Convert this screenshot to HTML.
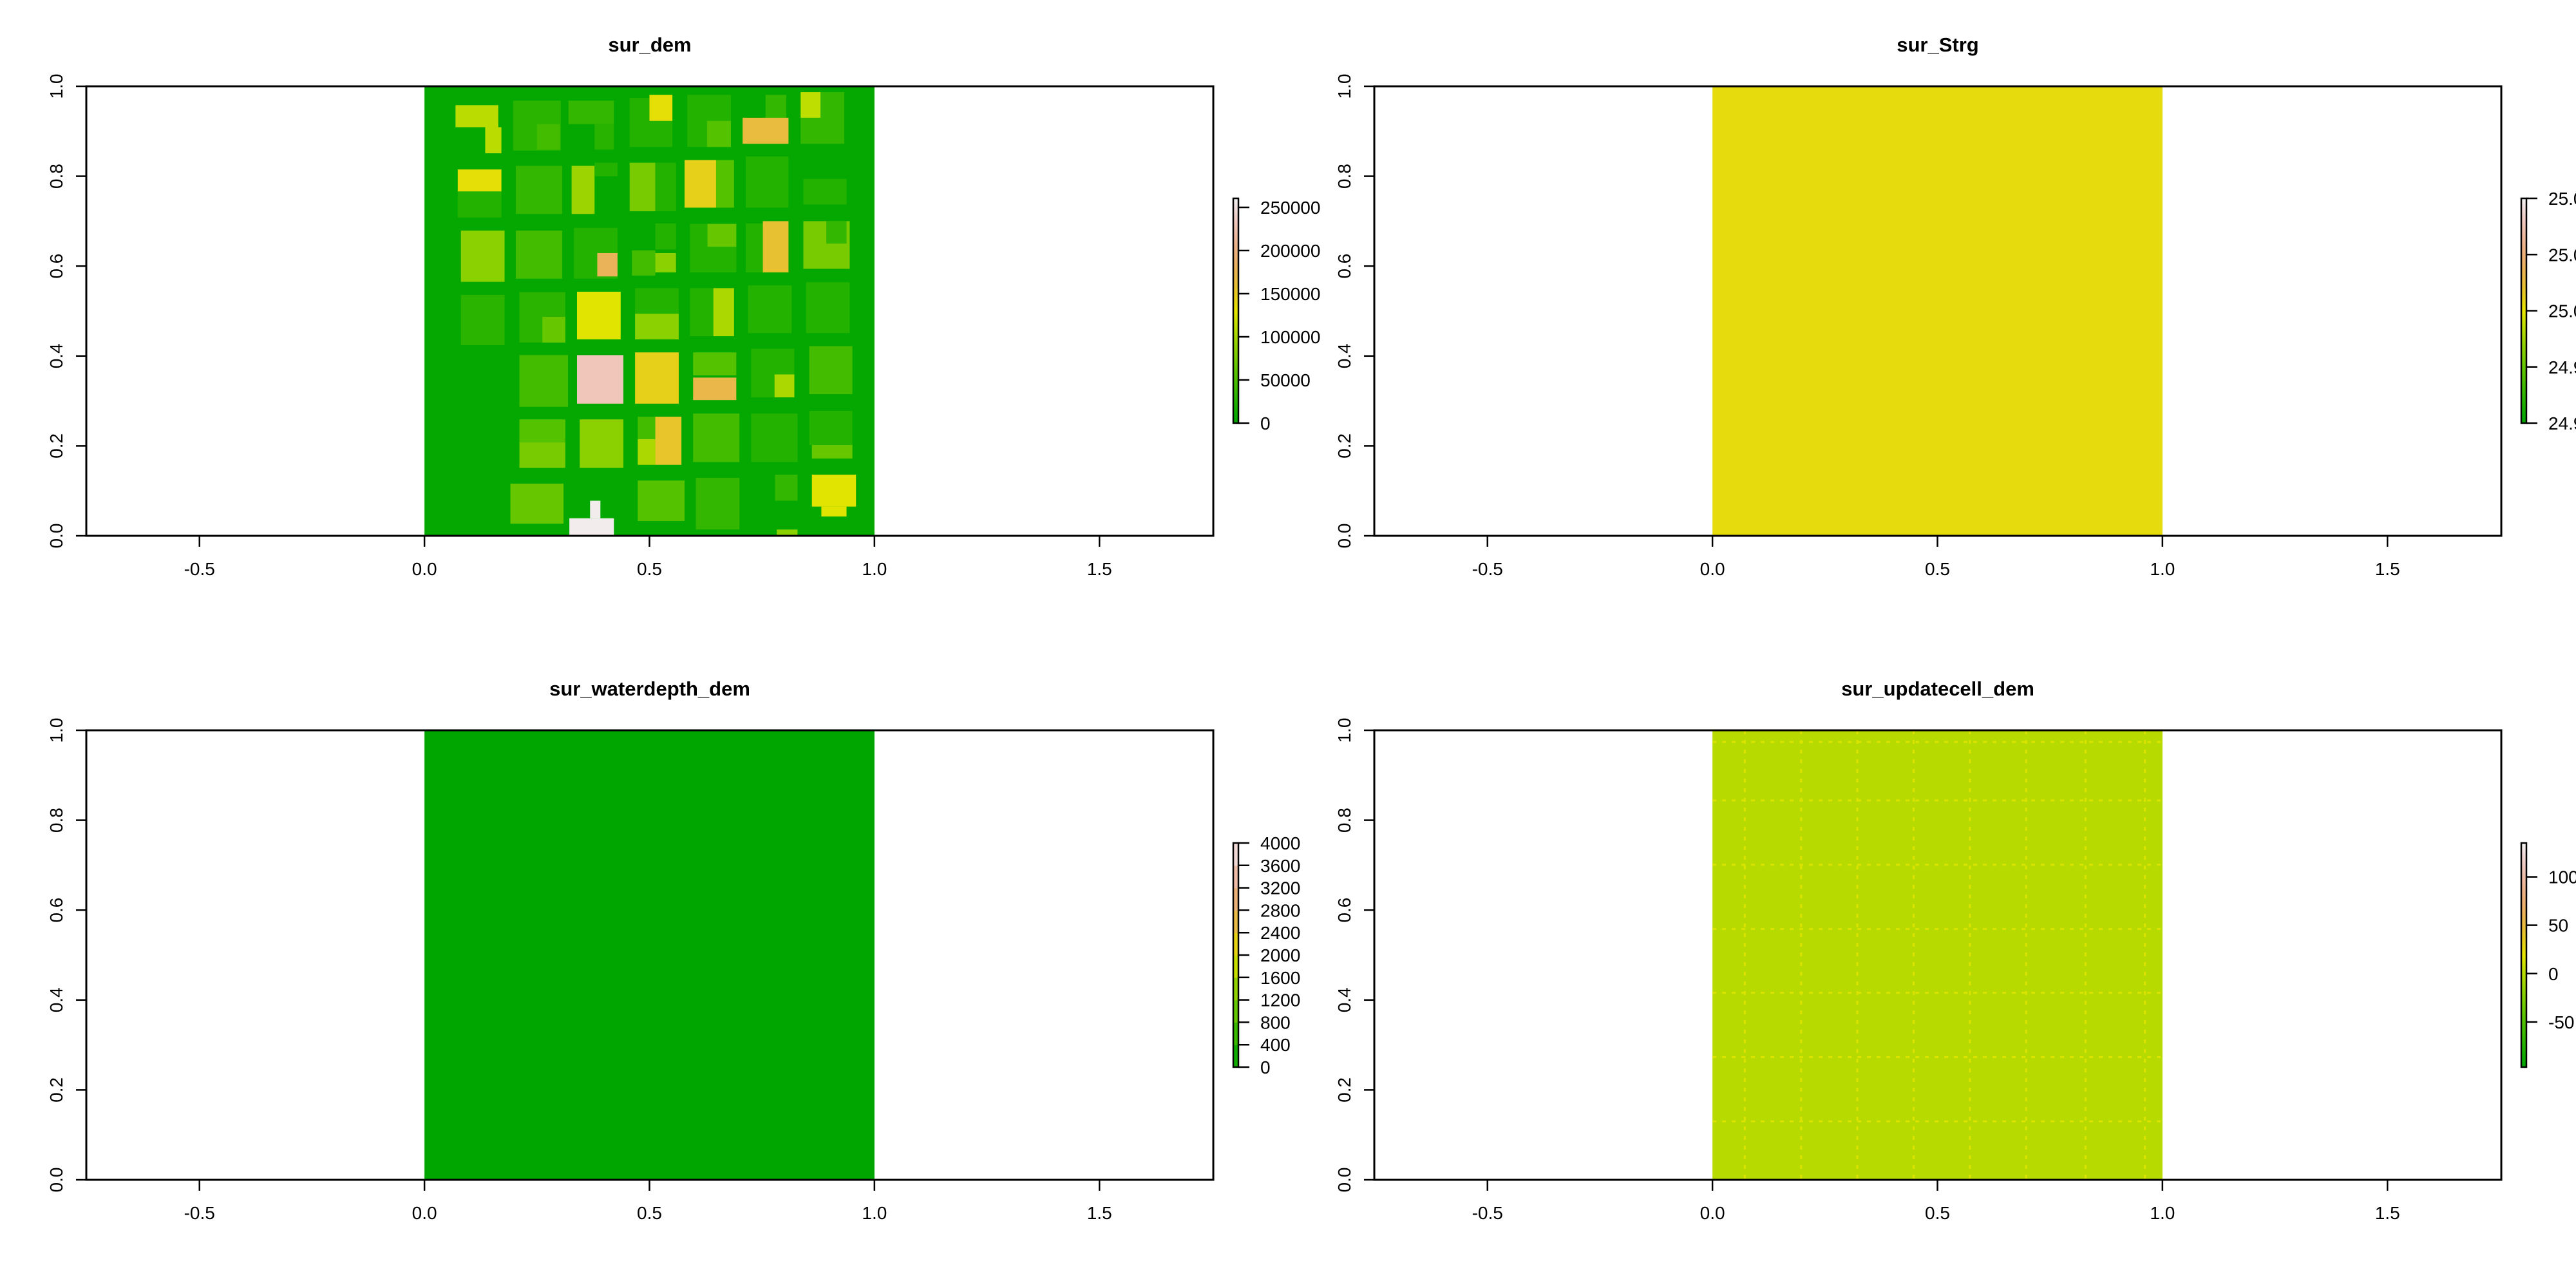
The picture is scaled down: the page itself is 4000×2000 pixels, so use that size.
<!DOCTYPE html>
<html><head><meta charset="utf-8"><title>rasters</title>
<style>html,body{margin:0;padding:0;background:#fff}svg{display:block}text{font-family:"Liberation Sans",Arial,sans-serif;fill:#000}</style>
</head><body>
<svg id="chart" xmlns="http://www.w3.org/2000/svg" width="4000" height="2000" viewBox="0 0 4000 2000"></svg>
<script>
const NS='http://www.w3.org/2000/svg';
const svg=document.getElementById('chart');
const panelTitles=['sur_dem','sur_Strg','sur_waterdepth_dem','sur_updatecell_dem'];
const xTicks=[-0.5,0,0.5,1,1.5];
const xTickLabels=['-0.5','0.0','0.5','1.0','1.5'];
const yTicks=[0,0.2,0.4,0.6,0.8,1];
const yTickLabels=['0.0','0.2','0.4','0.6','0.8','1.0'];
// panel 1 (sur_dem) building blocks: x0,y0,x1,y1 data coords, value (thousands)
const demBase=4;
const demX0=[.069,.135,.197,.25,.32,.378,.456,.5,.584,.628,.758,.707,.836,.836, .074,.074,.203,.327,.378,.456,.513,.578,.648,.714,.842, .081,.203,.332,.384,.461,.513,.513,.59,.629,.714,.752,.842,.893, .081,.211,.262,.339,.468,.468,.59,.642,.719,.848, .211,.339,.468,.597,.597,.726,.778,.855, .211,.211,.345,.474,.513,.474,.597,.726,.855,.861, .191,.474,.603,.861,.882,.779,.322,.368,.783];
const demY0=[.909,.851,.857,.859,.916,.859,.865,.923,.865,.865,.930,.872,.872,.930, .766,.708,.716,.716,.800,.722,.722,.730,.730,.730,.737, .565,.572,.572,.577,.579,.586,.637,.586,.643,.586,.586,.594,.650, .424,.430,.430,.437,.494,.437,.444,.444,.451,.451, .287,.294,.294,.357,.302,.308,.308,.315, .208,.151,.151,.158,.158,.158,.164,.164,.202,.172, .027,.033,.014,.065,.043,.078,0,.039,0];
const demX1=[.164,.171,.303,.301,.421,.421,.551,.551,.681,.681,.804,.809,.933,.880, .171,.171,.306,.378,.429,.513,.559,.655,.688,.809,.938, .178,.306,.429,.429,.513,.559,.559,.693,.693,.752,.809,.945,.938, .178,.313,.313,.436,.565,.565,.642,.688,.816,.945, .319,.442,.565,.693,.693,.822,.822,.951, .313,.313,.442,.571,.571,.513,.700,.829,.951,.951, .309,.578,.700,.959,.938,.829,.421,.391,.829];
const demY1=[.958,.909,.968,.916,.968,.916,.974,.981,.981,.923,.981,.930,.987,.987, .815,.766,.823,.823,.830,.830,.830,.836,.836,.844,.794, .679,.679,.685,.629,.635,.629,.695,.694,.694,.695,.700,.700,.700, .536,.542,.487,.543,.551,.494,.551,.551,.557,.564, .402,.402,.408,.408,.352,.416,.359,.422, .259,.208,.259,.265,.265,.215,.272,.272,.278,.202, .116,.123,.129,.136,.065,.136,.039,.078,.014];
const demVal=[110,110,30,46,36,28,26,134,26,57,36,165,36,112, 134,26,36,95,26,77,26,145,57,26,26, 87,46,26,180,46,87,26,26,67,26,158,77,36, 30,30,67,128,26,87,26,103,26,26, 46,231,145,57,172,26,103,46, 57,77,87,46,154,103,46,26,26,67, 67,57,36,128,128,36,257,257,87];
const demTicks=[0,50000,100000,150000,200000,250000];
// panel 2
const strgValue=25.001;
const strgTicks=[24.98,24.99,25.00,25.01,25.02];
// panel 3
const waterValue=0;
const waterTicks=[0,400,800,1200,1600,2000,2400,2800,3200,3600,4000];
// panel 4
const updBase=0;
const updLineX=[.072,.197,.322,.447,.572,.697,.829,.961];
const updLineY=[.974,.844,.701,.558,.416,.273,.13];
const updLineVal=15;
const updTicks=[-50,0,50,100];

const plot={l:134,r:1884,t:134,b:832};
const xlim=[-0.7515,1.753];
function sx(v,dx){return dx+plot.l+(v-xlim[0])/(xlim[1]-xlim[0])*(plot.r-plot.l);}
function sy(v,dy){return dy+plot.b-v*(plot.b-plot.t);}
function hsv(h,s,v){h=((h%1)+1)%1*6;const i=Math.floor(h),f=h-i,p=v*(1-s),q=v*(1-s*f),t=v*(1-s*(1-f));const m=[[v,t,p],[q,v,p],[p,v,t],[p,q,v],[t,p,v],[v,p,q]][i%6];return 'rgb('+m.map(c=>Math.round(c*255)).join(',')+')';}
function terrain(t){t=Math.max(0,Math.min(1,t));if(t<=0.5){const u=t/0.5;return hsv(4/12-2/12*u,1,.65+.25*u);}const u=(t-.5)/.5;return hsv(2/12*(1-u),1-u,.9+.05*u);}
function el(tag,attrs,parent){const e=document.createElementNS(NS,tag);for(const k in attrs)e.setAttribute(k,attrs[k]);(parent||svg).appendChild(e);return e;}

const offsets=[[0,0],[2000,0],[0,1000],[2000,1000]];
const legends=[
 {min:0,max:260400,ticks:demTicks,lab:v=>String(v),top:308,bot:657,disc:false},
 {min:24.98,max:25.02,ticks:strgTicks,lab:v=>v.toFixed(2),top:308,bot:657,disc:false},
 {min:0,max:4000,ticks:waterTicks,lab:v=>String(v),top:309,bot:657,disc:true},
 {min:-96.7,max:135,ticks:updTicks,lab:v=>String(v),top:309,bot:657,disc:false}];

offsets.forEach((o,pi)=>{
 const dx=o[0],dy=o[1];
 const g=el('g',{});
 
 
 const L=legends[pi];
 const col=v=>terrain((v-L.min)/(L.max-L.min));
 const rg=el('g',{},g);
 
 
 const X0=sx(0,dx),X1=sx(1,dx),Y0=sy(0,dy),Y1=sy(1,dy);
 if(pi===0){
  const b=el('rect',{x:X0,y:Y1,width:X1-X0,height:Y0-Y1,fill:col(demBase*1000)},rg);
  
  
  demVal.forEach((v,i)=>{
   const r=el('rect',{x:sx(demX0[i],dx),y:sy(demY1[i],dy),width:sx(demX1[i],dx)-sx(demX0[i],dx),height:sy(demY0[i],dy)-sy(demY1[i],dy),fill:col(v*1000)},rg);
   
   
  });
 } else if(pi===1){
  const b=el('rect',{x:X0,y:Y1,width:X1-X0,height:Y0-Y1,fill:col(strgValue)},rg);
  
  
 } else if(pi===2){
  const b=el('rect',{x:X0,y:Y1,width:X1-X0,height:Y0-Y1,fill:terrain(0.05*0)},rg);
  b.setAttribute('fill',terrain((waterValue-L.min)/(L.max-L.min)));
  
  
 } else {
  const b=el('rect',{x:X0,y:Y1,width:X1-X0,height:Y0-Y1,fill:col(updBase)},rg);
  
  
  updLineX.forEach(v=>{
   const l=el('line',{x1:sx(v,dx),x2:sx(v,dx),y1:Y1,y2:Y0,stroke:col(updLineVal),'stroke-width':3,'stroke-dasharray':'6 9'},rg);
   
   
  });
  updLineY.forEach(v=>{
   const l=el('line',{x1:X0,x2:X1,y1:sy(v,dy),y2:sy(v,dy),stroke:col(updLineVal),'stroke-width':3,'stroke-dasharray':'6 9'},rg);
   
   
  });
 }
 // box
 const box=el('rect',{x:dx+plot.l,y:dy+plot.t,width:plot.r-plot.l,height:plot.b-plot.t,fill:'none',stroke:'#000','stroke-width':3},g);
 
 
 // title
 const ti=el('text',{x:dx+(plot.l+plot.r)/2,y:dy+80,'text-anchor':'middle','font-size':31,'font-weight':'bold'},g);
 ti.textContent=panelTitles[pi];
 
 
 // x axis
 xTicks.forEach((v,i)=>{
  const x=sx(v,dx);
  const t=el('line',{x1:x,x2:x,y1:dy+plot.b,y2:dy+plot.b+17,stroke:'#000','stroke-width':2.5},g);
  
  
  const tx=el('text',{x:x,y:dy+893,'text-anchor':'middle','font-size':28},g);
  tx.textContent=xTickLabels[i];
  
  
 });
 yTicks.forEach((v,i)=>{
  const y=sy(v,dy);
  const t=el('line',{x1:dx+plot.l-16,x2:dx+plot.l,y1:y,y2:y,stroke:'#000','stroke-width':2.5},g);
  
  
  const tx=el('text',{x:0,y:0,'text-anchor':'middle','font-size':28,transform:'translate('+(dx+97)+','+y+') rotate(-90)'},g);
  tx.textContent=yTickLabels[i];
  
  
 });
 // legend
 const lg=el('g',{},g);
 
 
 const bx=dx+1915,bw=8;
 const ly=v=>dy+L.bot-(v-L.min)/(L.max-L.min)*(L.bot-L.top);
 const N=L.disc?10:80;
 for(let k=0;k<N;k++){
  const a=L.min+(L.max-L.min)*k/N,bb=L.min+(L.max-L.min)*(k+1)/N;
  const r=el('rect',{x:bx,y:ly(bb),width:bw,height:ly(a)-ly(bb)+0.6,fill:col((a+bb)/2)},lg);
  
  
 }
 const lb=el('rect',{x:bx,y:dy+L.top,width:bw,height:L.bot-L.top,fill:'none',stroke:'#000','stroke-width':2.5},lg);
 
 
 L.ticks.forEach(v=>{
  const y=ly(v);
  const t=el('line',{x1:bx+bw,x2:dx+1940,y1:y,y2:y,stroke:'#000','stroke-width':2.5},lg);
  
  
  const tx=el('text',{x:dx+1957,y:y+10,'font-size':28},lg);
  tx.textContent=L.lab(v);
  
  
 });
});
</script>
</body></html>
